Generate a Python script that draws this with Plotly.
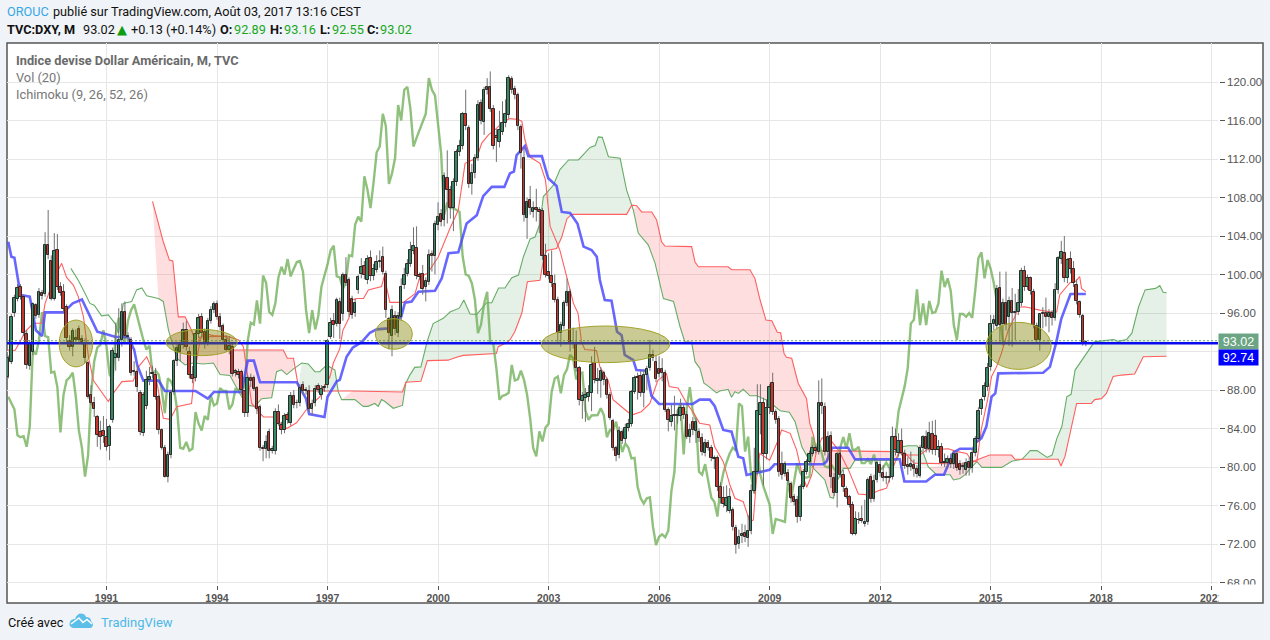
import plotly.graph_objects as go

W = 1270
H = 640

# months counted from Jan 1991
first_month = -32
years = [1991, 1994, 1997, 2000, 2003, 2006, 2009, 2012, 2015, 2018, 2021]
year_labels = [f"<b>{y}</b>" for y in years]
price_ticks = list(range(68, 124, 4))
# 92.00 sits behind the two price tags
price_labels = ["" if p == 92 else f"{p:.2f}" for p in price_ticks]

opens = [
    89.4, 90.95, 96, 97.5, 98.7, 97.7, 93.8, 90.5, 92, 96.8, 95.8, 98.1, 98, 103.1, 101.4, 97.5, 102.5, 98.7, 98.2, 96.6, 93.1, 92.5, 93.2, 94.3, 93.3, 92.9,
    90.8, 87.5, 86.7, 85.2, 83.6, 83.7,
    83.1, 82.2, 84.9, 91.3, 91.3, 93.2, 96.1, 93.6, 93.2, 90, 89.9, 87.7,
    83.5, 86.3, 89, 89.7, 89.6, 87.3, 83.8, 82, 79, 81.2, 87.8, 91,
    92, 92.7, 94.2, 92, 89.6, 89.2, 93.8, 95.6, 94, 92.9, 95.2, 96.3,
    96.9, 95.6, 94.6, 93.2, 92.2, 92.5, 89.8, 89.9, 89.9, 87.9, 85.6, 89.2,
    89.2, 88.2, 86.2, 82, 81.9, 83.6, 81.7, 81.7, 85.7, 84.4, 83.8, 85.4,
    84.6, 87.4, 86.7, 86.6, 88.5, 88, 87.9, 86, 86.6, 88.4, 87.5, 88.2,
    88.5, 93.5, 95.2, 94.9, 97.1, 95.9, 99.95, 99.4, 97.5, 96, 98.4, 100.1,
    100.9, 99.4, 101.7, 99.8, 100.5, 101.3, 101.8, 100.1, 95.4, 93.6, 95.7, 93.9,
    95.6, 98.9, 100.1, 101.1, 102.4, 102.8, 99.9, 100.1, 98.7, 99.2, 102.1, 101.9,
    105.1, 106.3, 105.7, 110, 108.8, 106.9, 109.6, 112.7, 113.3, 116.7, 115.2, 109.4,
    110.5, 112.1, 117.8, 115.8, 119.2, 119.5, 117.2, 114.4, 113.8, 114.8, 115.7, 116.6,
    120.3, 119.3, 118.6, 115.3, 112.1, 105.9, 107.7, 106.5, 106.9, 106.7, 106.6, 101.9,
    100.3, 99.85, 99, 97.4, 93.9, 94.6, 97, 98.2, 92.9, 92.8, 90.25, 86.9,
    87.2, 87.3, 87.65, 90.8, 88.9, 88.9, 89.8, 89, 87.5, 84.8, 81.95, 81.25,
    83.6, 82.9, 84.1, 84.5, 87.8, 89.2, 89.45, 87.65, 89.55, 90.25, 91.6, 90.9,
    90.2, 90.15, 89.8, 85.9, 84.7, 85.35, 85.3, 85.25, 86.1, 85.4, 83.1, 84.7,
    83.7, 83.65, 83.05, 81.5, 82.45, 82, 80.85, 80.9, 77.9, 76.75, 75.95, 75.45,
    75.5, 73.7, 72, 72.8, 73.1, 72.6, 73.4, 77.5, 79.5, 85.4, 86.7, 81.3,
    86.1, 88.7, 85.7, 85, 80.3, 79.3, 79.4, 78.2, 76.9, 76.6, 74.85, 77.97,
    79.5, 80.5, 81.4, 82, 81.6, 86.7, 86.2, 81.6, 83.2, 78.9, 77.3, 81.4,
    79.2, 77.7, 76.9, 76.1, 73.05, 74.5, 74.6, 74.1, 74.25, 78.95, 76.65, 78.65,
    80.2, 79.4, 79, 78.9, 79, 83.15, 81.5, 82.7, 81.3, 80.2, 79.95, 80.2,
    79.8, 79.1, 82, 83.1, 81.9, 83.4, 83.2, 81.8, 82.1, 80.55, 80.4, 80.8,
    80.3, 81.3, 80.3, 80.1, 79.7, 80.55, 79.9, 81.5, 82.9, 86, 87.3, 88.3,
    90.4, 94.9, 94.6, 98.6, 94.9, 97, 95.6, 97.25, 96, 96.1, 97, 100.4,
    98.7, 99.6, 98.2, 94.7, 93.2, 96, 96, 95.6, 96, 95.5, 98.4, 101.6,
    102.2, 99.6, 101.6, 100.6, 98.9, 97.1, 95.7, 92.89,
]
highs = [
    91.6, 95.9, 97.9, 99, 99, 97.9, 94.2, 93.2, 97.1, 97, 98.6, 98.4, 104.4, 106.7, 102, 104.3, 104.2, 99.2, 99, 96.9, 93.7, 94.4, 94.3, 94.7, 93.7, 93.4,
    91, 88.5, 87.3, 85.4, 84.8, 85.3,
    85, 84.4, 92.4, 95, 96.5, 97, 97.2, 94, 93.5, 91, 90.5, 88,
    87.8, 90, 90.4, 90.5, 90.3, 87.5, 84, 82.3, 81.6, 88, 91.2, 93,
    93, 95, 95.2, 92.5, 90.5, 94.2, 95.9, 96, 94.4, 95.5, 96.7, 97.2,
    97.3, 96, 94.9, 93.7, 93.6, 92.8, 90.2, 90.2, 90.1, 88, 89.5, 89.7,
    89.5, 88.4, 86.5, 82.3, 83.3, 84, 82.2, 86.1, 86.5, 84.7, 85.6, 85.7,
    87.8, 88, 87, 88.6, 88.9, 88.3, 88.5, 87, 88.5, 88.7, 88.5, 88.6,
    93.3, 95.5, 96, 97.6, 97.6, 100.2, 101.8, 99.7, 97.8, 97.5, 100, 101.7,
    101.4, 102, 102.5, 101.1, 102, 102.5, 102.9, 100.4, 95.6, 96.8, 96.2, 96.1,
    99.6, 100.7, 101.6, 103.4, 104.9, 105, 100.2, 101, 99.7, 102.6, 102.5, 105.6,
    107.5, 106.8, 110.6, 112.9, 109.2, 110, 113, 114, 116.9, 119.2, 115.5, 111.5,
    112.5, 118.1, 118.2, 119.5, 120.4, 121.1, 117.6, 115.1, 117, 118, 118.2, 120.7,
    120.6, 119.6, 118.9, 115.6, 113.2, 108, 109.2, 107.6, 108.9, 107, 106.9, 103.2,
    102.2, 102.5, 100, 97.7, 95.1, 97.3, 99.6, 98.5, 94.5, 94.2, 90.5, 87.8,
    88.2, 88.5, 91.5, 92.5, 90.3, 90.4, 90, 89.3, 87.8, 85, 82.2, 84.2,
    83.9, 84.5, 85, 88, 89.5, 89.8, 90, 90.1, 90.5, 93.2, 92.2, 91.6,
    91.5, 91.3, 90.1, 86.2, 86.5, 87.4, 86, 87.1, 86.5, 85.8, 84.5, 85.2,
    85.1, 84, 83.5, 82.9, 82.8, 82.3, 81.2, 81.2, 78.4, 78, 78.1, 77.8,
    75.8, 74, 73.5, 74.1, 74, 75, 78.2, 82, 88.6, 88.6, 87.2, 87,
    88.6, 89.8, 86, 85.3, 81.6, 80.6, 79.8, 78.5, 77.2, 77, 78.2, 79.8,
    80.8, 81.7, 82.3, 82.2, 89, 89.2, 86.7, 83.7, 83.7, 79.4, 81.6, 81.8,
    79.7, 78, 77.1, 76.4, 75.4, 75.3, 76, 76.6, 78.9, 79.3, 79.2, 80.7,
    80.7, 80.2, 79.5, 80, 84.2, 84, 83.5, 84, 81.8, 81, 81.6, 80.8,
    80.2, 82.3, 83.3, 83.8, 84.7, 84.8, 84.9, 82.8, 82.5, 81.4, 81.2, 81.4,
    81.7, 81.6, 80.7, 80.5, 80.9, 81, 81.9, 83.2, 86.2, 87.2, 88.8, 90.8,
    95.8, 95.8, 98.9, 100.3, 97.5, 100.3, 97.7, 98.6, 98, 98.5, 100.7, 100.9,
    100, 99.8, 98.5, 95, 96, 96.6, 97.6, 96.4, 96.3, 99.1, 101.9, 103.5,
    104, 101.7, 102.4, 101.4, 99.5, 97.3, 95.9, 93.16,
]
lows = [
    89.2, 90.7, 95.6, 97.2, 97.4, 93.6, 90.2, 90.1, 91.6, 95.4, 95.5, 97.4, 97.7, 101.6, 97.3, 97.3, 98.4, 97.8, 96, 93, 92.1, 91.5, 93, 92.9, 92.7, 90.8,
    87.1, 86.4, 85.2, 82.1, 81.8, 82.5,
    81.7, 80.7, 84.6, 90, 91, 92.5, 93.3, 93, 89.5, 89.5, 87.8, 83.3,
    83.2, 86, 88.5, 89.2, 87, 83.4, 81.8, 78.9, 78.4, 80.9, 87.5, 90.5,
    91, 92.3, 92.1, 89.2, 88.7, 88.9, 93.4, 93.5, 92.3, 92.6, 94.9, 96,
    95.3, 94.2, 92.9, 92, 91.7, 89.4, 89.4, 89.2, 87.5, 85.2, 85.2, 88.3,
    87.9, 85.5, 81.7, 80.6, 80.9, 80.9, 81.4, 81.3, 84.3, 83.4, 83.5, 84.5,
    84.3, 86.1, 86.1, 86.3, 87.5, 87.5, 85.7, 85.4, 86.3, 87.7, 87, 87.8,
    88.2, 93.3, 93.4, 94.6, 93.3, 95.2, 98.8, 95.6, 95.4, 95.6, 98, 99.6,
    99.5, 99, 99.3, 99.4, 100.2, 100.7, 100, 95.5, 92.2, 91.5, 93.7, 93.5,
    95.2, 98.5, 99.8, 100.8, 102.1, 99.5, 99.4, 97.9, 97.2, 98.9, 100.3, 100,
    104.6, 105, 105, 105.3, 105.8, 104.5, 109.2, 112.3, 113, 115, 109, 108.3,
    110, 111.8, 115.6, 114.5, 118.7, 116.9, 113, 111.7, 113.2, 114.5, 115.3, 116.2,
    118.8, 118.2, 115, 111, 105.5, 103.7, 106.2, 105.9, 105.5, 104.3, 101.5, 99.7,
    99.5, 98.7, 97.1, 93, 92.5, 94.3, 96.7, 92, 92.3, 89.9, 86.4, 85,
    84.7, 86.8, 85.8, 88.7, 87.6, 87.2, 88.5, 87.1, 84.9, 81.7, 80.6, 80.9,
    82.4, 82.5, 83.7, 84.2, 87.6, 87, 87.3, 86.2, 88, 90, 91, 88.8,
    89.3, 88.9, 85.7, 83.7, 84.2, 83.8, 84.5, 84.8, 85, 82.9, 82.5, 83.3,
    82.5, 82.6, 81.2, 81.1, 81.7, 80.6, 79.8, 77.5, 76.2, 75.8, 75.3, 75.2,
    73.4, 71, 71.5, 72.1, 72.2, 71.7, 73, 77.2, 79.2, 83.4, 78.1, 80.8,
    85.5, 85.4, 84.5, 79, 78.7, 79, 78.1, 76.3, 76, 74.2, 74.4, 77.7,
    79.2, 80.2, 81.1, 81.4, 81.3, 85.5, 81.2, 80.6, 77.8, 77, 75.8, 78.9,
    77.4, 76.7, 75.8, 72.9, 72.9, 74.1, 74.2, 73.8, 74, 76.3, 76.4, 78.4,
    79, 78.5, 78.2, 78.4, 78.7, 81.2, 81.1, 81.2, 79.8, 79.2, 79.6, 79,
    78.9, 78.9, 81.6, 81.5, 81.5, 81.3, 81.2, 81, 80.1, 80, 79.8, 79.9,
    79.8, 79.6, 79.2, 79.3, 79.1, 79.1, 79.4, 81.1, 82.6, 85.4, 86.9, 87.9,
    90, 94.2, 94.3, 93, 92.6, 94.2, 92.6, 92.5, 93.2, 95.8, 96.7, 98.3,
    98.4, 97.9, 94.4, 92.8, 92.1, 94.4, 94.6, 94, 94.7, 95.2, 98, 101.1,
    99.2, 99.1, 100.1, 98.7, 96.9, 95.5, 92.6, 92.55,
]
closes = [
    91.3, 95.55, 97.6, 98.6, 97.7, 93.9, 90.6, 92.8, 96.9, 95.7, 98.2, 97.8, 103.1, 102, 97.5, 102.4, 98.7, 98.1, 96.4, 93.4, 92.5, 94.1, 93.4, 93.2, 93, 91.3,
    87.3, 86.7, 86, 83.3, 83.1, 83.2,
    82.1, 84.2, 92.1, 91.7, 93.2, 96.1, 93.6, 93.5, 89.8, 89.9, 88.3, 83.6,
    87.5, 89, 89.3, 89.8, 87.3, 83.8, 82, 79, 81.2, 87.7, 91, 92.4,
    92.7, 94.2, 92.5, 89.6, 89.1, 93.8, 95.5, 93.9, 92.9, 95.2, 96.3, 96.9,
    95.6, 94.5, 93.2, 92.2, 92.6, 89.7, 90, 89.6, 88, 85.6, 89.2, 88.9,
    88.1, 86, 82, 81.9, 82.6, 81.7, 81.9, 85.7, 84.5, 83.8, 85.3, 84.9,
    87.4, 86.4, 86.6, 88.2, 87.9, 87.9, 86, 86.5, 88.1, 88, 88.1, 88.3,
    93.1, 95, 94.8, 97.3, 94.9, 99.9, 99.1, 96.1, 95.8, 97, 99.7, 100.8,
    100, 101.6, 99.8, 100.6, 101.3, 101.4, 100.3, 96.3, 93.9, 96.3, 94.3, 95.7,
    98.7, 99.9, 101.05, 102.5, 103, 99.8, 99.7, 98.5, 99.3, 102, 101.9, 105.2,
    106, 105.5, 110.2, 108.8, 106.9, 109.6, 112.7, 113.3, 116.7, 115.4, 109.4, 110.5,
    112.1, 117.6, 116, 119.2, 119.5, 117.2, 113.3, 114.2, 115, 115.7, 116.7, 120.4,
    119.2, 118.6, 115.4, 112.6, 106.2, 107.5, 106.9, 106.9, 106.7, 106.5, 101.9, 100,
    99.85, 99.1, 97.4, 93.9, 94.8, 97, 98.2, 92.9, 92.8, 90.25, 87, 87.4,
    87.5, 87.7, 90.6, 89, 89.1, 90, 89.05, 87.5, 85.05, 81.95, 81.1, 83.7,
    82.65, 84.1, 84.5, 87.8, 89.2, 89.4, 87.65, 89.55, 90.15, 91.65, 91.3, 89.1,
    89.7, 89.8, 85.9, 84.9, 85.35, 85.4, 85.4, 86.1, 85.4, 83.1, 83.85, 83.8,
    84.7, 83.05, 81.55, 82.45, 82, 80.9, 80.95, 77.95, 76.75, 76.2, 76.75, 76.85,
    73.8, 71.9, 72.75, 73, 72.7, 73.4, 77.5, 79.5, 85.8, 86.6, 81.3, 86.1,
    88.3, 85.7, 84.9, 79.5, 79.2, 80.3, 78.5, 76.8, 76.4, 74.85, 77.95, 79.5,
    80.5, 81.4, 82, 81.7, 86.6, 86.3, 81.6, 83.15, 79, 77.3, 81.4, 79.2,
    77.95, 76.9, 76.1, 73.05, 74.6, 74.5, 74.4, 74.3, 78.65, 76.7, 78.55, 80.4,
    79.4, 78.9, 78.9, 79, 83.15, 81.75, 82.75, 81.5, 80.1, 79.95, 80.3, 79.8,
    79.3, 82, 83.1, 81.9, 83.5, 81.8, 81.8, 82.1, 80.4, 80.4, 80.8, 80.3,
    81.3, 79.9, 79.7, 79.95, 80.45, 79.9, 81.5, 82.9, 85.8, 87, 88.4, 90.3,
    94.9, 95.3, 98.45, 94.75, 97, 94.75, 97.25, 96, 96.1, 97, 100.4, 98.7,
    99.6, 98.3, 94.75, 93.2, 95.9, 95.9, 95.6, 96, 95.5, 98.4, 101.7, 102.3,
    99.6, 101.5, 100.6, 99.15, 97.2, 95.8, 92.9, 93.02,
]

# thick green line, one value a month from the left edge on
lagging = [
    87.3, 86.7, 86, 83.3, 83.1, 83.2,
    82.1, 84.2, 92.1, 91.7, 93.2, 96.1, 93.6, 93.5, 89.8, 89.9, 88.3, 83.6,
    87.5, 89, 89.3, 89.8, 87.3, 83.8, 82, 79, 81.2, 87.7, 91, 92.4,
    92.7, 94.2, 92.5, 89.6, 89.1, 93.8, 95.5, 93.9, 92.9, 95.2, 96.3, 96.9,
    95.6, 94.5, 93.2, 92.2, 92.6, 89.7, 90, 89.6, 88, 85.6, 89.2, 88.9,
    88.1, 86, 82, 81.9, 82.6, 81.7, 81.9, 85.7, 84.5, 83.8, 85.3, 84.9,
    87.4, 86.4, 86.6, 88.2, 87.9, 87.9, 86, 86.5, 88.1, 88, 88.1, 88.3,
    93.1, 95, 94.8, 97.3, 94.9, 99.9, 99.1, 96.1, 95.8, 97, 99.7, 100.8,
    100, 101.6, 99.8, 100.6, 101.3, 101.4, 100.3, 96.3, 93.9, 96.3, 94.3, 95.7,
    98.7, 99.9, 101.05, 102.5, 103, 99.8, 99.7, 98.5, 99.3, 102, 101.9, 105.2,
    106, 105.5, 110.2, 108.8, 106.9, 109.6, 112.7, 113.3, 116.7, 115.4, 109.4, 110.5,
    112.1, 117.6, 116, 119.2, 119.5, 117.2, 113.3, 114.2, 115, 115.7, 116.7, 120.4,
    119.2, 118.6, 115.4, 112.6, 106.2, 107.5, 106.9, 106.9, 106.7, 106.5, 101.9, 100,
    99.85, 99.1, 97.4, 93.9, 94.8, 97, 98.2, 92.9, 92.8, 90.25, 87, 87.4,
    87.5, 87.7, 90.6, 89, 89.1, 90, 89.05, 87.5, 85.05, 81.95, 81.1, 83.7,
    82.65, 84.1, 84.5, 87.8, 89.2, 89.4, 87.65, 89.55, 90.15, 91.65, 91.3, 89.1,
    89.7, 89.8, 85.9, 84.9, 85.35, 85.4, 85.4, 86.1, 85.4, 83.1, 83.85, 83.8,
    84.7, 83.05, 81.55, 82.45, 82, 80.9, 80.95, 77.95, 76.75, 76.2, 76.75, 76.85,
    73.8, 71.9, 72.75, 73, 72.7, 73.4, 77.5, 79.5, 85.8, 86.6, 81.3, 86.1,
    88.3, 85.7, 84.9, 79.5, 79.2, 80.3, 78.5, 76.8, 76.4, 74.85, 77.95, 79.5,
    80.5, 81.4, 82, 81.7, 86.6, 86.3, 81.6, 83.15, 79, 77.3, 81.4, 79.2,
    77.95, 76.9, 76.1, 73.05, 74.6, 74.5, 74.4, 74.3, 78.65, 76.7, 78.55, 80.4,
    79.4, 78.9, 78.9, 79, 83.15, 81.75, 82.75, 81.5, 80.1, 79.95, 80.3, 79.8,
    79.3, 82, 83.1, 81.9, 83.5, 81.8, 81.8, 82.1, 80.4, 80.4, 80.8, 80.3,
    81.3, 79.9, 79.7, 79.95, 80.45, 79.9, 81.5, 82.9, 85.8, 87, 88.4, 90.3,
    94.9, 95.3, 98.45, 94.75, 97, 94.75, 97.25, 96, 96.1, 97, 100.4, 98.7,
    99.6, 98.3, 94.75, 93.2, 95.9, 95.9, 95.6, 96, 95.5, 98.4, 101.7, 102.3,
    99.6, 101.5, 100.6, 99.15, 97.2, 95.8, 92.9, 93.02,
]

tenkan_m = [
    -32.3, -29.8, -28.2, -26.5, -23.8, -21.1, -20, -18.4, -17.3, -15.7, -14.6, -13, -10.8, -9.2, -7.5, -5.9, -4.3, -2.1, 0.6, 2.2,
    3.9, 5, 8.7, 10.4, 13.1, 16.3, 18.5, 20.7, 22.9, 27.7, 28.8, 30.5, 31.5, 34.8, 40.2, 43, 44.6, 45.7, 47.3, 51.1,
    54.3, 58.7, 61.9, 65.2, 69.5, 72.8, 73.9, 76, 77, 79, 80.1, 81.5, 83.7, 85.3, 89.6, 90.7, 91.2, 92.3, 96.7, 100.5,
    102.1, 104.5, 108.1, 111.9, 113.5, 114.6, 116.8, 117.9, 120.6, 122.2, 124.4, 127.1, 129.3, 131.4, 134.2, 135.3, 136.3, 138, 141.2, 143,
    144.5, 146.6, 147.7, 151, 152.1, 153.6, 154.7, 155.8, 159.6, 160.7, 163.4, 165, 167.8, 171, 174.2, 177, 179.6, 182.4, 183.3, 186.2,
    189, 191, 193.2, 196.5, 198.1, 200.9, 203.1, 204.7, 207.4, 209.6, 210.7, 211.7, 212.8, 216, 218.8, 219.9, 222.7, 224.8, 226.5, 228.1,
    229.7, 231.3, 233, 235, 238.4, 241.7, 244.9, 248.2, 252, 254.1, 256.3, 258, 259.6, 265, 267.2, 274.2, 277, 280.2, 281.8, 283.5,
    285, 287, 288.3, 289.9, 291.5, 293.7, 295.9, 297, 299.1, 304, 308.4, 309.5, 310.5, 313.8, 315.6, 317, 317.6, 319,
]
tenkan_v = [
    92.16, 92.1, 93, 94.06, 94.93, 94.93, 97, 98.4, 100.3, 100.5, 101.16, 99.7, 98.9, 97.7, 95.6, 91.5, 89, 88.07, 86.8, 87.65,
    88.35, 88.87, 88.95, 90.4, 91.46, 89, 85.06, 84.95, 86.27, 86.6, 90.08, 93.2, 93.9, 93.65, 93.5, 93.2, 92.5, 90.08, 86.6, 85.2,
    85.2, 84, 84.6, 86, 87.3, 89.4, 90.8, 92.3, 94.2, 95.5, 97.35, 97.5, 97.5, 98.4, 98.75, 100.1, 98.75, 97.1, 97.1, 98,
    99.8, 100.1, 101.85, 104.8, 106, 106.7, 111.55, 111.7, 112.1, 113.63, 114.5, 115.2, 115.9, 116.2, 116.1, 115.9, 114, 112.2, 111.55, 109.8,
    105, 103.4, 102.5, 98.4, 97, 95.97, 93, 92.2, 92.1, 90.4, 89, 87, 86.27, 85.4, 85.75, 86.6, 89, 89.7, 88.35, 88.2,
    86.6, 85.75, 84.54, 84.36, 82.1, 80.56, 78.1, 76.75, 76.4, 74.3, 74.5, 78.65, 81.4, 80.7, 82.8, 83.84, 83.5, 81.76, 79.34, 77.9,
    79.17, 81.7, 83, 83.15, 81.76, 79.7, 77.2, 77.1, 77.6, 77.8, 80, 81.5, 81.25, 81.25, 81.8, 81.9, 81.6, 81.4, 80.7, 80.55,
    84, 87, 89.4, 90.4, 91.8, 94.2, 95.6, 96.6, 96.65, 96.3, 96.07, 96.1, 97.87, 99.15, 99.25, 99.77, 98.56, 98.2,
]

kijun_m = [
    -32, -31, -30, -28, -25, -23, -21, -20, -14, -11, -8, -5, -3, 0, 3, 7, 9, 10, 12, 17,
    19, 29, 33, 35, 44, 46, 48, 50, 62, 65, 66, 71, 72, 75, 76, 78.2, 80.2, 83.2, 85.8, 88,
    91.8, 96, 97.2, 99.4, 101.6, 107, 109.2, 111.4, 114.6, 117.3, 120.6, 122.7, 125.5, 129.6, 131.4, 132.7, 133.6, 136.3, 137.4, 141.8,
    143.9, 146.6, 148.3, 151, 153.4, 155.4, 158, 159.7, 160.7, 162.3, 164.5, 166.3, 167.8, 168.8, 171.6, 172.6, 175.9, 177.5, 180, 191,
    193.2, 196.5, 198.1, 200.9, 203.6, 205.8, 207.4, 208.5, 212.8, 216, 217.6, 233.4, 234.5, 236.3, 241.6, 243.8, 258.4, 259.9, 267, 269.8,
    272.8, 275.8, 278, 282.4, 283, 285, 286.6, 288.3, 289.5, 290.5, 305.1, 307.3, 309.4, 311, 314, 319,
]
kijun_v = [
    103.4, 101.85, 101.75, 97.87, 97.7, 94.2, 93.6, 96.07, 96.07, 97, 97.4, 95.45, 94.06, 93.8, 93.5, 93.5, 92.2, 90.6, 88.97, 88.97,
    87.9, 87.9, 87.1, 87.8, 87.8, 91.05, 91.05, 88.8, 88.8, 87.1, 85.5, 85.2, 87.3, 88.9, 89.05, 91.46, 92.4, 93, 93.95, 94.3,
    94.4, 95.6, 97.07, 97.2, 98.2, 98.3, 99.6, 102.2, 102.3, 105.3, 106.15, 108.15, 109.1, 109.1, 110.5, 110.7, 112.4, 113.35, 112.3, 112.3,
    110, 109.2, 106.5, 106.4, 105.3, 102.9, 102.55, 101.85, 99.43, 97.35, 97.28, 94.06, 93.7, 91.64, 91.1, 90.08, 90, 87.4, 86.55, 86.55,
    87, 87, 86.34, 83.85, 83.67, 81.07, 80.9, 79.17, 79.5, 79.7, 80.28, 80.28, 80.55, 82, 82, 80.8, 80.8, 78.5, 78.5, 79.2,
    79.2, 81.5, 81.9, 81.9, 82.5, 83, 84.2, 87.3, 87.65, 89.73, 89.8, 90.4, 93, 95.4, 97.97, 97.97,
]

lead_a_m = [
    -11.6, -9.2, -7, -5.4, -4, -1.6, 0.6, 2.8, 3.9, 5.5, 8.2, 9.8, 11.5, 13.1, 16.9, 18.5, 20.2, 22.9, 25.6, 28.3,
    31.5, 34.8, 37, 40.2, 44, 46.2, 48.4, 50.5, 53.8, 55.4, 57, 58.7, 60.9, 63.6, 65.7, 67.9, 69.5, 71.7, 74.4, 75.5,
    76.6, 80.9, 83.6, 85.2, 87.4, 88.5, 89.6, 90.7, 93.4, 95, 96.4, 97.5, 98.8, 100.4, 102.4, 104.5, 106.4, 109.7, 111.9, 114.9,
    116.4, 118.4, 120.6, 123.8, 125.5, 127.7, 129.8, 132, 134.2, 135.8, 138, 139.6, 141.2, 142.3, 145.6, 147.7, 150.5, 153.7, 157.5, 159.2,
    160.2, 161.5, 163.5, 167.3, 169.4, 171.6, 173.2, 176.5, 178.7, 181.4, 184.7, 186.8, 188.4, 190.6, 191.7, 193.3, 194.6, 196, 198.7, 199.8,
    202.5, 203.6, 204.7, 205.8, 207.4, 209.6, 211.8, 215.6, 219.4, 222.4, 224.3, 226.5, 230.3, 234, 235.7, 236.8, 237.9, 240, 242.2, 243.8,
    257.4, 259, 261.2, 264, 266.1, 267.7, 270.4, 274.8, 275.9, 278, 279.7, 281.8, 283.5, 285.2, 291.6, 294.9, 298.2, 300.9, 303.1, 306.4,
    308, 309.6, 311.2, 312.8, 314.2, 315.5, 319.2, 321.8, 328, 329.6, 332.3, 334, 336.2, 338.3, 341.7, 343.1, 344.2, 345.3,
]
lead_a_v = [
    100.64, 99.4, 98.05, 97, 96.8, 95.7, 95.8, 94.9, 93.9, 97, 97.2, 98.4, 98.6, 97.8, 97.5, 97.2, 94.2, 91.3, 90.6, 90.8,
    90.7, 90.8, 89.6, 89.5, 87.3, 86.4, 86.3, 87.1, 87.2, 89.9, 90.1, 89.6, 90.2, 90.8, 90.7, 89.9, 89.9, 90.6, 90.07, 87.8,
    87, 87, 86.3, 86.3, 86.6, 86.3, 87, 86.8, 86.1, 86.3, 86.4, 88.7, 89.55, 90.35, 90.4, 93.1, 94.9, 95.45, 96.1, 96.5,
    97.35, 95.9, 95.86, 97.07, 97.07, 98.6, 98.6, 99.67, 99.95, 101.85, 103.7, 103.9, 105.3, 108.1, 109.3, 110.9, 111.9, 111.9, 113.2, 113.4,
    114.3, 114.25, 112.24, 112.07, 108.8, 106.7, 104.3, 103.06, 101.16, 97.5, 97.2, 94.6, 93, 92.95, 90.94, 90.25, 88.7, 88.4, 87.7, 87.9,
    88.07, 87.24, 87.83, 87.65, 88.07, 87.4, 87.4, 86.86, 85.85, 85.68, 84.7, 82.1, 79.86, 78.65, 76.85, 76.74, 78.47, 79.86, 79.86, 80.7,
    80.7, 82.1, 82.2, 82.2, 81.4, 80, 79.2, 79.2, 78.65, 78.8, 79.2, 80, 80.55, 79.96, 79.96, 80.6, 80.8, 81.7, 81.7, 81,
    81.24, 83, 84.2, 87.3, 87.55, 90.07, 91.8, 93, 93.25, 93.05, 93.25, 93.9, 96.65, 98.4, 98.56, 98.84, 98.15, 98.1,
]

lead_b_m = [
    15, 18.5, 20.5, 21.6, 23.4, 25.6, 27.7, 29.4, 30.4, 39.1, 41.3, 45, 57.6, 58.9, 60.9, 62.5, 65.2, 80, 96.4, 97.5,
    102.4, 104.5, 111.3, 114, 116.2, 127, 127.6, 130.3, 131.4, 133, 135.3, 137.1, 141.2, 142.5, 143.4, 146.6, 148.3, 150, 151.5, 169.4,
    171.1, 172.7, 174.3, 177.6, 179.2, 180.8, 181.9, 190.6, 191.7, 192.8, 202.5, 203.6, 209.6, 211.2, 212.9, 214.8, 216.7, 218.5, 219.6, 220.7,
    221.5, 223.2, 225.3, 228, 229.1, 230.3, 231.3, 256.9, 260, 263, 281, 283.4, 287.7, 294.8, 295.9, 310, 310.9, 312.2, 314.3, 316,
    320.8, 321.9, 324.1, 325.7, 327.9, 330.6, 334.9, 337.7, 345.3,
]
lead_b_v = [
    107.6, 103.4, 101.5, 101.4, 95.6, 95.6, 94.2, 92.7, 93.5, 93.6, 92.16, 92.16, 92.16, 91.3, 91.3, 88.35, 87.9, 87.9, 87.8, 88.8,
    88.9, 91.05, 91.1, 91.4, 91.6, 91.8, 92.5, 92.9, 93.2, 94.06, 96, 99.25, 99.4, 101.85, 102.5, 102.7, 103.9, 105.8, 106.25, 106.25,
    107.2, 107.15, 106.5, 106.5, 105.66, 103.4, 102.96, 102.9, 101.3, 100.8, 100.8, 100.5, 100.5, 99.6, 97.35, 95.27, 95.2, 94, 93.96, 91.8,
    91.4, 91.3, 88.7, 87.13, 84.5, 83.3, 81.7, 81.6, 81.5, 80.4, 80.3, 80.72, 81.24, 81.24, 80.8, 80.8, 80.1, 81.07, 84.2, 86.6,
    86.6, 87, 87.1, 87.65, 89.4, 89.55, 89.66, 91.46, 91.5,
]

# where the two lead lines swap, and which one is on top between swaps
cloud_swaps = [15, 61.7, 75.6, 97.5, 171.4, 258.5, 267.7, 296, 345.3]
cloud_colors = ["red", "green", "red", "green", "red", "green", "red", "green"]

last_close = 93.02
ma_value = 92.74
ma_level = 92.85

# drawn highlights: month from, month to, price low, price high
ellipse_m0 = [-15.4, 19.4, 87.6, 141.6, 286.5]
ellipse_m1 = [-4.5, 42.6, 99.6, 183.5, 307.7]
ellipse_p0 = [90.4, 91.57, 92.23, 90.84, 90.14]
ellipse_p1 = [95.27, 94.3, 95.41, 94.65, 95.03]

GRID = "#e6e6e6"
FRAME = "#555555"
AXIS_TEXT = "#555555"
SANS = "Roboto, sans-serif"
ARIAL = "Liberation Sans, Arial, sans-serif"


def fx(px):
    return px / W


def fy(py):
    return 1 - py / H


def price_at(py):
    return 120 - (py - 82) / 9.625


def month_at(px):
    return (px - 106.5) / 3.07


months = [first_month + i for i in range(len(closes))]

fig = go.Figure()

# cloud fill between the lead lines
fill = {"red": "rgba(255,60,70,0.17)", "green": "rgba(40,130,60,0.12)"}
for start, end, color in zip(cloud_swaps, cloud_swaps[1:], cloud_colors):
    top = [(m, v) for m, v in zip(lead_a_m, lead_a_v) if start <= m <= end]
    bottom = [(m, v) for m, v in zip(lead_b_m, lead_b_v) if start <= m <= end]
    outline = top + bottom[::-1]
    fig.add_trace(go.Scatter(x=[p[0] for p in outline], y=[p[1] for p in outline], mode="lines",
                             line=dict(width=0), fill="toself", fillcolor=fill[color],
                             hoverinfo="skip", zorder=-5))

fig.add_trace(go.Scatter(x=lead_a_m, y=lead_a_v, mode="lines", line=dict(width=1.1, color="#66ad66"), zorder=-4))
fig.add_trace(go.Scatter(x=lead_b_m, y=lead_b_v, mode="lines", line=dict(width=1.1, color="#ff5f5f"), zorder=-4))
fig.add_trace(go.Scatter(x=months[:len(lagging)], y=lagging, mode="lines",
                         line=dict(width=2.4, color="rgba(112,176,88,0.78)"), zorder=-3))
fig.add_trace(go.Scatter(x=tenkan_m, y=tenkan_v, mode="lines", line=dict(width=1.1, color="#ff6060"), zorder=-3))
fig.add_trace(go.Scatter(x=kijun_m, y=kijun_v, mode="lines",
                         line=dict(width=2.6, color="rgba(70,70,255,0.82)"), zorder=-3))

# wicks under the bodies
wick_x = []
wick_y = []
for m, hi, lo in zip(months, highs, lows):
    wick_x.extend([m, m, None])
    wick_y.extend([hi, lo, None])
fig.add_trace(go.Scatter(x=wick_x, y=wick_y, mode="lines", line=dict(width=1, color="#707070"), zorder=-1))

body_base = [min(o, c) for o, c in zip(opens, closes)]
body_size = [abs(c - o) for o, c in zip(opens, closes)]
body_color = ["#358a63" if c >= o else "#c8352a" for o, c in zip(opens, closes)]
fig.add_trace(go.Bar(x=months, y=body_size, base=body_base, width=0.8, zorder=0,
                     marker=dict(color=body_color, line=dict(color="#2a2a2a", width=1))))

# last price and moving average lines
x_ends = [month_at(7), month_at(1218)]
fig.add_trace(go.Scatter(x=x_ends, y=[ma_level, ma_level], mode="lines",
                         line=dict(width=2.4, color="#0a0af0"), zorder=1))
fig.add_trace(go.Scatter(x=x_ends, y=[last_close + 0.1, last_close + 0.1], mode="lines",
                         line=dict(width=1, color="#5aa57a", dash="2px,2px"), zorder=1))

shapes = [
    dict(type="rect", xref="paper", yref="paper", x0=fx(7), x1=fx(1263), y0=fy(603), y1=fy(43),
         fillcolor="white", line=dict(color=FRAME, width=1.5), layer="below"),
    # clips the labels that run over the panel edges
    dict(type="rect", xref="paper", yref="paper", x0=fx(1218.6), x1=fx(1262), y0=fy(602), y1=fy(584.6),
         fillcolor="white", line=dict(width=0), layer="above"),
]
for m0, m1, p0, p1 in zip(ellipse_m0, ellipse_m1, ellipse_p0, ellipse_p1):
    shapes.append(dict(type="circle", xref="x", yref="y", x0=m0, x1=m1, y0=p0, y1=p1,
                       fillcolor="rgba(128,128,0,0.42)", line=dict(color="#a3a32b", width=1), layer="above"))


def logo_path(points):
    return " ".join(f"{cmd}{fx(x):.5f},{fy(y):.5f}" for cmd, x, y in points)


shapes.append(dict(type="path", xref="paper", yref="paper", fillcolor="#5bbfe8", line=dict(width=0),
                   path=logo_path([("M", 73, 628), ("Q", 68, 626), ("", 70, 622), ("Q", 71, 619), ("", 75, 619),
                                   ("Q", 77, 613.5), ("", 81, 613.5), ("Q", 85, 613.5), ("", 86, 617),
                                   ("Q", 91, 617), ("", 91, 621), ("Q", 95, 625), ("", 91, 628)]) + " Z"))
shapes.append(dict(type="path", xref="paper", yref="paper", line=dict(color="white", width=1.5),
                   path=logo_path([("M", 71, 624), ("L", 79, 618), ("L", 83, 622.5), ("L", 87, 619.5), ("L", 92, 624)])))

notes = []


def note(px, py, text, color="#111111", size=12.7, family=SANS):
    notes.append(dict(xref="paper", yref="paper", x=fx(px), y=fy(py), text=text, showarrow=False,
                      xanchor="left", yanchor="middle", borderpad=0, font=dict(family=family, size=size, color=color)))


GREEN = "#17a81c"
note(6, 11, "OROUC", "#35a8e6")
note(52, 11, "publié sur TradingView.com, Août 03, 2017 13:16 CEST")
note(6, 29.5, "<b>TVC:DXY, M</b>")
note(82, 29.5, "93.02")
note(116, 29.5, "▲", "#0f9d0f", 13, "DejaVu Sans")
note(130, 29.5, "+0.13 (+0.14%)")
for label, lx, value, vx in [("O:", 219, "92.89", 233), ("H:", 269, "93.16", 283),
                             ("L:", 319, "92.55", 331), ("C:", 366, "93.02", 379)]:
    note(lx, 29.5, f"<b>{label}</b>")
    note(vx, 29.5, value, GREEN)
note(15, 60.5, "<b>Indice devise Dollar Américain, M, TVC</b>", "#6a6a6a", 12.8)
note(15, 77.5, "Vol (20)", "#777777", 12.8)
note(15, 94.5, "Ichimoku (9, 26, 52, 26)", "#777777", 12.8)
note(7, 622.5, "Créé avec", "#111111", 12.7)
note(100, 622.5, "TradingView", "#4db8e8", 13)

for value, py, bg in [(last_close, 341, "#6ba583"), (ma_value, 357, "#0000ff")]:
    notes.append(dict(xref="paper", yref="paper", x=fx(1218), y=fy(py), text=f"{value:.2f}", showarrow=False,
                      xanchor="left", yanchor="middle", width=39, height=15, align="center", borderpad=0,
                      bgcolor=bg, font=dict(family=ARIAL, size=12.5, color="white")))

fig.update_layout(
    width=W,
    height=H,
    autosize=False,
    margin=dict(l=0, r=0, t=0, b=0),
    paper_bgcolor="#f0f3f7",
    plot_bgcolor="rgba(0,0,0,0)",
    showlegend=False,
    hovermode=False,
    bargap=0,
    shapes=shapes,
    annotations=notes,
    xaxis=dict(domain=[fx(7), fx(1218)], range=[month_at(7), month_at(1218)], tickmode="array", automargin=False,
               tickvals=[(y - 1991) * 12 for y in years], ticktext=year_labels, ticks="outside", ticklen=4,
               tickcolor=FRAME, tickfont=dict(family=ARIAL, size=10.5, color=AXIS_TEXT), showline=True,
               linecolor=FRAME, linewidth=1.5, gridcolor=GRID, gridwidth=1.2, zeroline=False),
    yaxis=dict(domain=[fy(584), fy(43)], range=[price_at(584), price_at(43)], side="right", tickmode="array", automargin=False,
               tickvals=price_ticks, ticktext=price_labels, ticks="outside", ticklen=5, tickcolor=FRAME,
               tickfont=dict(family=ARIAL, size=11.5, color=AXIS_TEXT), showline=True, linecolor=FRAME,
               linewidth=1.5, gridcolor=GRID, gridwidth=1.2, zeroline=False),
)

fig.write_html("out.html", config=dict(displayModeBar=False),
               post_script="document.body.style.margin='0';document.body.style.background='#f0f3f7';")
